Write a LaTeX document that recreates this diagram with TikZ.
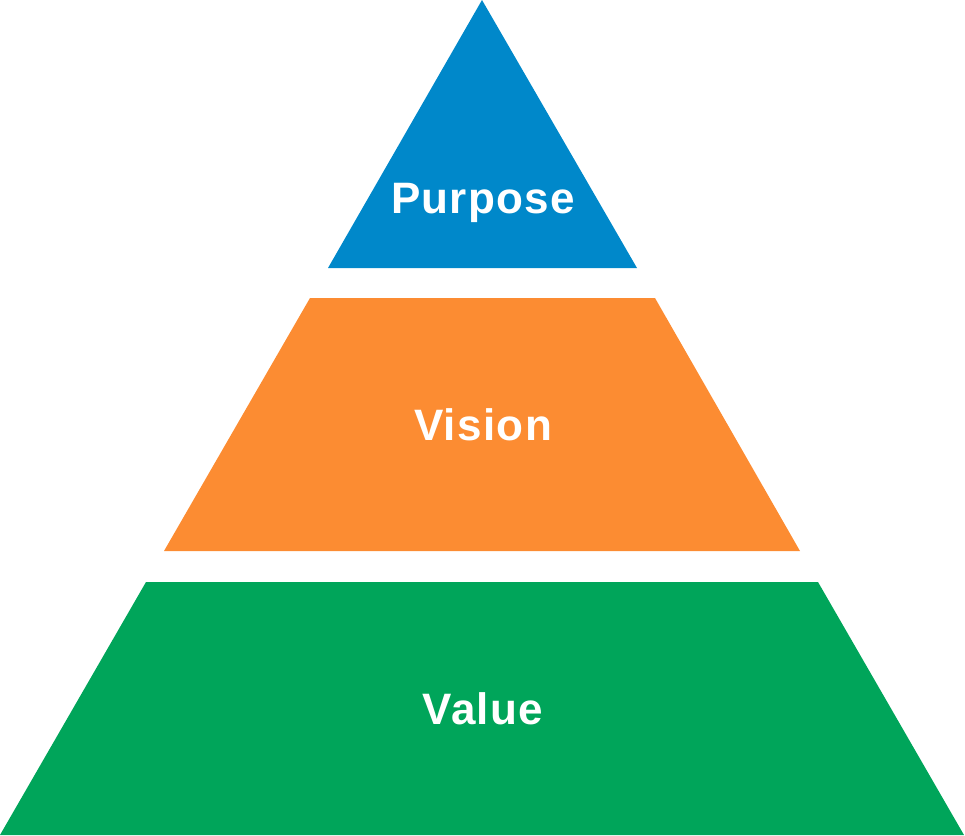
\documentclass[tikz,border=0pt]{standalone}
\usepackage{fontspec}
\setmainfont{Liberation Sans}[LetterSpace=3]
\begin{document}
\begin{tikzpicture}[x=0.75pt,y=-0.75pt,
  lbl/.style={text=white,font=\bfseries\fontsize{33}{40}\selectfont}]
\definecolor{cblue}{HTML}{0088CA}
\definecolor{corange}{HTML}{FC8C32}
\definecolor{cgreen}{HTML}{00A55A}
\useasboundingbox (0,0) rectangle (965,836);
\fill[cblue] (482,0) -- (637,268) -- (328,268) -- cycle;
\fill[corange] (310,298) -- (655,298) -- (800,551) -- (164,551) -- cycle;
\fill[cgreen] (146,582) -- (818,582) -- (964,835) -- (0,835) -- cycle;
\node[lbl] (p) at (483,203) {Purpose};
\node[lbl] (v) at (483,425) {Vision};
\node[lbl] (w) at (483,709) {Value};
\end{tikzpicture}
\end{document}
